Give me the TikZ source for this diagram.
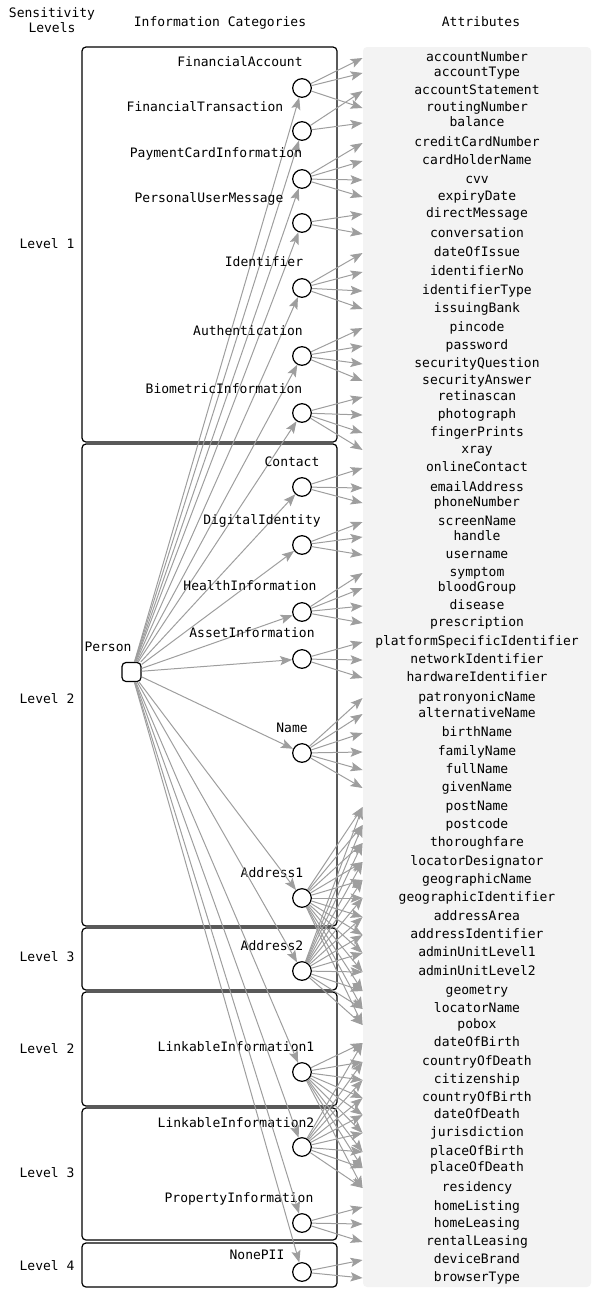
\documentclass[tikz,border=0pt]{standalone}
\usepackage{fontspec}
\setmainfont{DejaVu Sans Mono}
\usetikzlibrary{arrows.meta, positioning}
\definecolor{attrgray}{RGB}{243,243,243}
\definecolor{edgegray}{RGB}{158,158,158}
\tikzset{
  levelbox/.style={draw=black, rounded corners=2pt, line width=0.6pt},
  catnode/.style={circle, draw=black, fill=white, minimum size=9.3pt,
    inner sep=0pt, line width=0.6pt},
  rootnode/.style={rectangle, draw=black, fill=white, rounded corners=2pt,
    minimum size=9.5pt, inner sep=0pt, line width=0.6pt},
  txt/.style={inner sep=0pt, text height=5pt, text depth=1.5pt},
  attr/.style={txt, minimum width=114pt, align=center},
  edge/.style={-{Stealth[length=6pt, width=4.6pt, inset=1.2pt]},
    color=edgegray, line width=0.5pt}
}

\begin{document}
\begin{tikzpicture}[x=0.5pt, y=-0.5pt, font=\fontsize{6.5}{7.5}\selectfont]
  \useasboundingbox (0,0) rectangle (591,1290);

  % column headers
  \node[inner sep=0pt, align=center] (hdrlevel) at (52,20) {Sensitivity\\Levels};
  \node[txt] (hdrcat) at (220,23) {Information Categories};
  \node[txt] (hdrattr) at (481,23) {Attributes};

  % sensitivity level frames
  \draw[levelbox] (82,47) rectangle (337,442);
  \draw[levelbox] (82,444) rectangle (337,926);
  \draw[levelbox] (82,928) rectangle (337,990);
  \draw[levelbox] (82,992) rectangle (337,1106);
  \draw[levelbox] (82,1108) rectangle (337,1240);
  \draw[levelbox] (82,1243) rectangle (337,1287);
  \node[txt] (lvla) at (47,245) {Level 1};
  \node[txt] (lvlb) at (47,700) {Level 2};
  \node[txt] (lvlc) at (47,958) {Level 3};
  \node[txt] (lvld) at (47,1050) {Level 2};
  \node[txt] (lvle) at (47,1174) {Level 3};
  \node[txt] (lvlf) at (47,1267) {Level 4};

  % attribute column
  \fill[attrgray, rounded corners=2pt] (363,47) rectangle (591,1287);
  \foreach \y/\a in {58/accountNumber, 73/accountType, 91/accountStatement,
      108/routingNumber, 123/balance, 143/creditCardNumber, 161/cardHolderName,
      180/cvv, 197/expiryDate, 214/directMessage, 234/conversation,
      253/dateOfIssue, 272/identifierNo, 291/identifierType, 309/issuingBank,
      328/pincode, 346/password, 364/securityQuestion, 381/securityAnswer,
      397/retinascan, 415/photograph, 433/fingerPrints, 450/xray,
      468/onlineContact, 488/emailAddress, 503/phoneNumber, 522/screenName,
      537/handle, 555/username, 573/symptom, 588/bloodGroup, 606/disease,
      623/prescription, 642/platformSpecificIdentifier, 660/networkIdentifier,
      678/hardwareIdentifier, 698/patronyonicName, 714/alternativeName,
      733/birthName, 752/familyName, 770/fullName, 788/givenName,
      807/postName, 825/postcode, 843/thoroughfare, 862/locatorDesignator,
      880/geographicName, 898/geographicIdentifier, 917/addressArea,
      935/addressIdentifier, 953/adminUnitLevel1, 972/adminUnitLevel2,
      991/geometry, 1009/locatorName, 1025/pobox, 1043/dateOfBirth,
      1062/countryOfDeath, 1080/citizenship, 1098/countryOfBirth,
      1115/dateOfDeath, 1133/jurisdiction, 1152/placeOfBirth,
      1168/placeOfDeath, 1188/residency, 1207/homeListing, 1224/homeLeasing,
      1242/rentalLeasing, 1260/deviceBrand, 1278/browserType}
    \node[attr] (\a) at (477,\y) {\a};

  % information categories
  \node[rootnode] (person) at (131.5,672) {};
  \node[txt] (person-lbl) at (108,648) {Person};
  \foreach \c/\y/\lx/\ly/\t in {fa/88/240/63/FinancialAccount,
      ft/131/205/108/FinancialTransaction, pci/179/216/154/PaymentCardInformation,
      pum/223/209/199/PersonalUserMessage, ident/288/264/263/Identifier,
      auth/356/248/332/Authentication, bio/413/224/390/BiometricInformation,
      contact/487/292/463/Contact, digid/545/262/521/DigitalIdentity,
      health/612/250/587/HealthInformation, asset/659/252/634/AssetInformation,
      name/753/292/729/Name, addra/898/272/874/Address1,
      addrb/971/272/947/Address2, linka/1072/236/1048/LinkableInformation1,
      linkb/1147/236/1124/LinkableInformation2,
      prop/1223/239/1199/PropertyInformation, nonepii/1272/257/1256/NonePII}
  {
    \node[catnode] (\c) at (302,\y) {};
    \node[txt] (\c-lbl) at (\lx,\ly) {\t};
    \draw[edge] (person) -- (\c);
  }

  % category -> attribute
  \foreach \c/\list in {fa/{accountNumber,accountType,routingNumber},
      ft/{accountStatement,balance},
      pci/{creditCardNumber,cardHolderName,cvv,expiryDate},
      pum/{directMessage,conversation},
      ident/{dateOfIssue,identifierNo,identifierType,issuingBank},
      auth/{pincode,password,securityQuestion,securityAnswer},
      bio/{retinascan,photograph,fingerPrints,xray},
      contact/{onlineContact,emailAddress,phoneNumber},
      digid/{screenName,handle,username},
      health/{symptom,bloodGroup,disease,prescription},
      asset/{platformSpecificIdentifier,networkIdentifier,hardwareIdentifier},
      name/{patronyonicName,alternativeName,birthName,familyName,fullName,givenName},
      prop/{homeListing,homeLeasing,rentalLeasing},
      nonepii/{deviceBrand,browserType}}
    \foreach \a in \list
      \draw[edge] (\c) -- (\a.west);
  \foreach \c in {addra,addrb}
    \foreach \a in {postName,postcode,thoroughfare,locatorDesignator,
        geographicName,geographicIdentifier,addressArea,addressIdentifier,
        adminUnitLevel1,adminUnitLevel2,geometry,locatorName,pobox}
      \draw[edge] (\c) -- (\a.west);
  \foreach \c in {linka,linkb}
    \foreach \a in {dateOfBirth,countryOfDeath,citizenship,countryOfBirth,
        dateOfDeath,jurisdiction,placeOfBirth,placeOfDeath,residency}
      \draw[edge] (\c) -- (\a.west);
\end{tikzpicture}
\end{document}
